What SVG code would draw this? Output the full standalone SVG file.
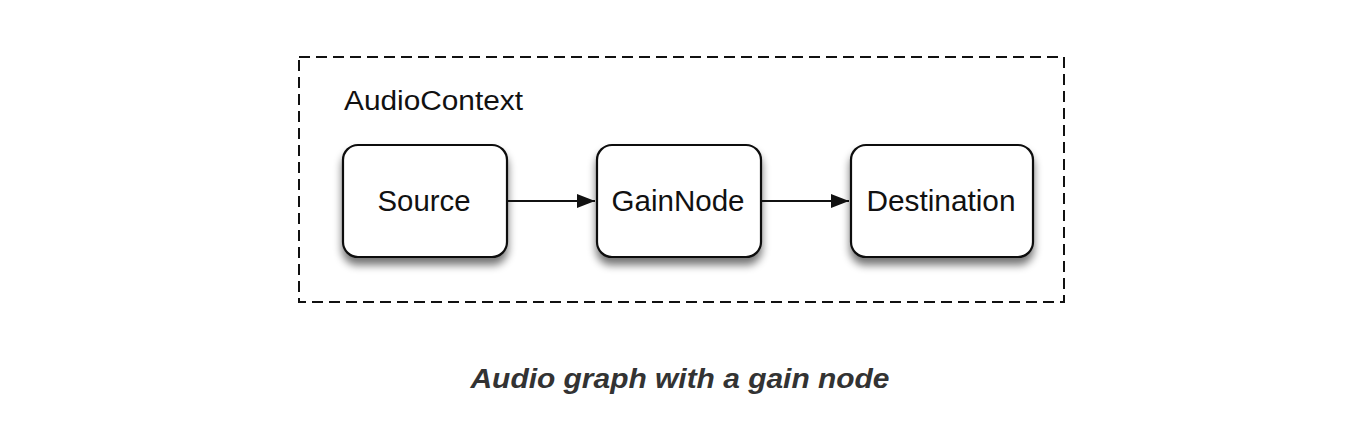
<svg xmlns="http://www.w3.org/2000/svg" width="1366" height="438" viewBox="0 0 1366 438">
<style>
.node rect.box{fill:#fff;stroke:#111;stroke-width:2.2}
.lbl{font-family:"Liberation Sans",Arial,sans-serif;font-size:29px;fill:#111;text-anchor:middle}
.conn line{stroke:#111;stroke-width:2}
</style>
<defs>
<filter id="sh" x="-20%" y="-20%" width="140%" height="150%">
<feGaussianBlur in="SourceAlpha" stdDeviation="4"/>
<feOffset dx="0" dy="7" result="b"/>
<feComponentTransfer><feFuncA type="linear" slope="0.55"/></feComponentTransfer>
<feMerge><feMergeNode/><feMergeNode in="SourceGraphic"/></feMerge>
</filter>
<marker id="ah" markerWidth="18" markerHeight="14" refX="18" refY="7" orient="auto" markerUnits="userSpaceOnUse">
<path d="M0,0 L18,7 L0,14 z" fill="#111"/>
</marker>
</defs>
<rect width="1366" height="438" fill="#fff"/>
<g id="context">
<rect x="299" y="57" width="765" height="245" fill="none" stroke="#111" stroke-width="2" stroke-dasharray="11,6"/>
<text x="344" y="110" font-family="'Liberation Sans',Arial,sans-serif" font-size="27" fill="#111" textLength="179" lengthAdjust="spacingAndGlyphs">AudioContext</text>
</g>
<g id="source" class="node">
<rect class="box" x="343" y="145" width="164" height="112" rx="15" filter="url(#sh)"/>
<text class="lbl" x="424" y="211" textLength="93" lengthAdjust="spacingAndGlyphs">Source</text>
</g>
<g id="gain" class="node">
<rect class="box" x="597" y="145" width="164" height="112" rx="15" filter="url(#sh)"/>
<text class="lbl" x="678" y="211" textLength="133" lengthAdjust="spacingAndGlyphs">GainNode</text>
</g>
<g id="destination" class="node">
<rect class="box" x="851" y="145" width="182" height="112" rx="15" filter="url(#sh)"/>
<text class="lbl" x="941" y="211" textLength="149" lengthAdjust="spacingAndGlyphs">Destination</text>
</g>
<g id="connectors" class="conn">
<line x1="508" y1="201" x2="595" y2="201" marker-end="url(#ah)"/>
<line x1="762" y1="201" x2="849" y2="201" marker-end="url(#ah)"/>
</g>
<text x="680" y="388" font-family="'Liberation Sans',Arial,sans-serif" font-size="28" font-weight="bold" font-style="italic" fill="#333" text-anchor="middle" textLength="419" lengthAdjust="spacingAndGlyphs">Audio graph with a gain node</text>
</svg>
